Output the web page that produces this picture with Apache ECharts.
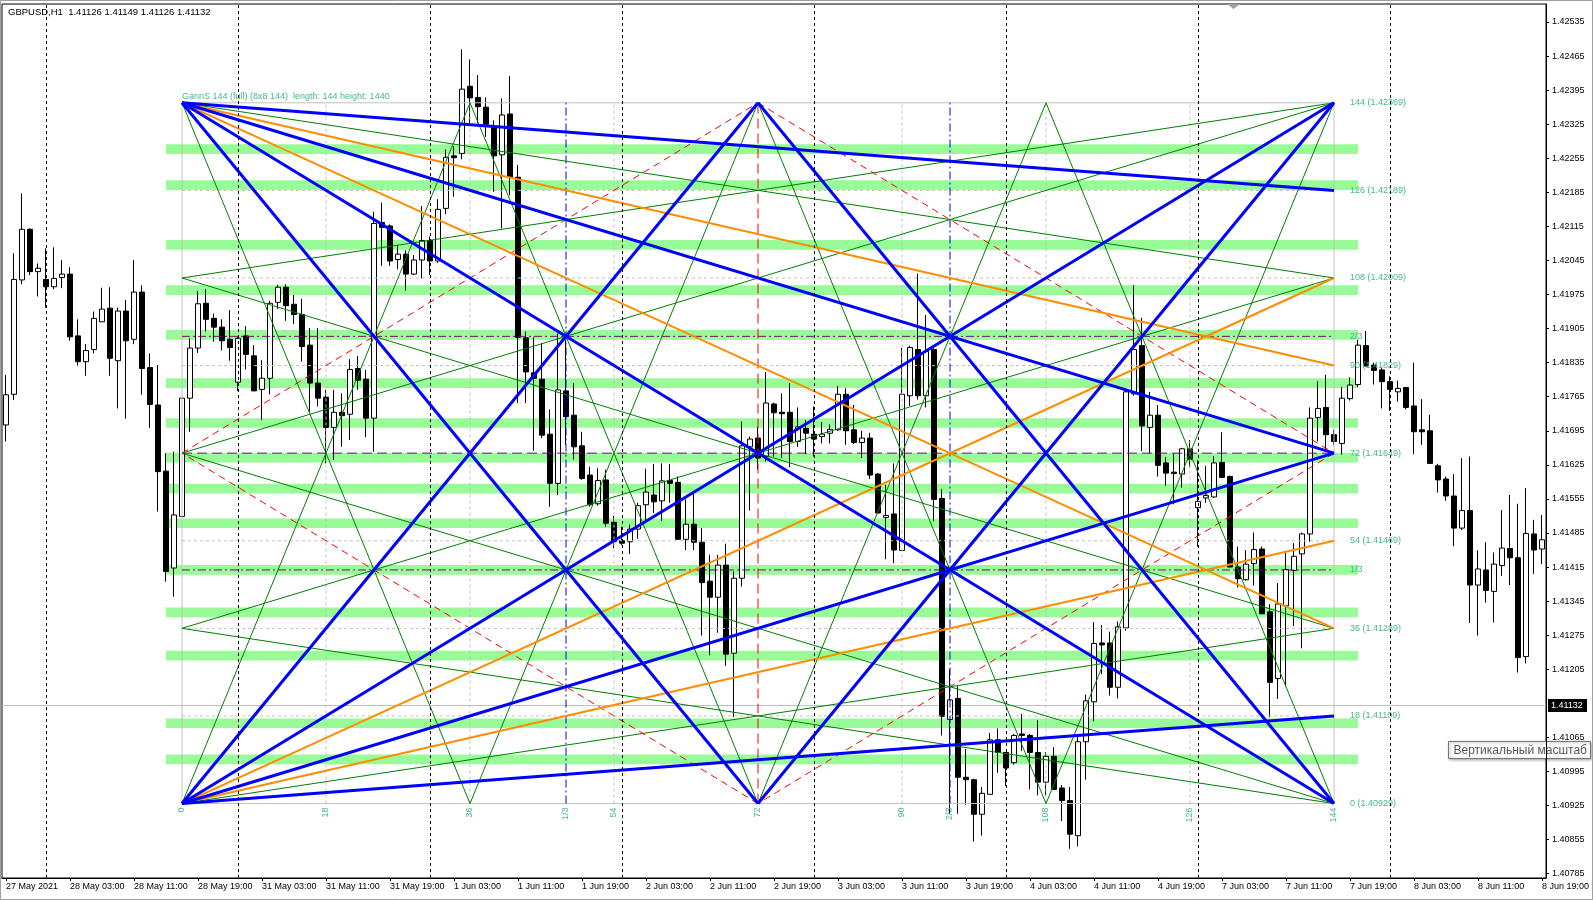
<!DOCTYPE html>
<html>
<head>
<meta charset="utf-8">
<script src="https://cdn.jsdelivr.net/npm/echarts@6/dist/echarts.min.js"></script>
<style>html,body{margin:0;padding:0;background:#fff;}#chart{width:1593px;height:900px;}</style>
</head>
<body>
<div id="chart"></div>
<script>
// ---------------- data ----------------
const symbolName = 'GBPUSD,H1';
const titleOHLC = [1.41126, 1.41149, 1.41126, 1.41132];
const lastBid = 1.41132;

const sessionDays = ['27 May','28 May','31 May','1 Jun','2 Jun','3 Jun','4 Jun','7 Jun','8 Jun'];
const firstDayStartHour = 19;
const lastDayEndHour = 19;

const tickLabels = ['27 May 2021','28 May 03:00','28 May 11:00','28 May 19:00','31 May 03:00','31 May 11:00','31 May 19:00',
  '1 Jun 03:00','1 Jun 11:00','1 Jun 19:00','2 Jun 03:00','2 Jun 11:00','2 Jun 19:00','3 Jun 03:00','3 Jun 11:00','3 Jun 19:00',
  '4 Jun 03:00','4 Jun 11:00','4 Jun 19:00','7 Jun 03:00','7 Jun 11:00','7 Jun 19:00','8 Jun 03:00','8 Jun 11:00','8 Jun 19:00'];

const priceTicks = [1.40785,1.40855,1.40925,1.40995,1.41065,1.41205,1.41275,1.41345,1.41415,1.41485,1.41555,1.41625,
  1.41695,1.41765,1.41835,1.41905,1.41975,1.42045,1.42115,1.42185,1.42255,1.42325,1.42395,1.42465,1.42535];

const open = [
1.41707,1.41770,1.42005,1.42109,1.42022,1.42006,1.41991,1.42010,1.42017,1.41890,
1.41837,1.41862,1.41919,1.41947,1.41839,1.41941,1.41883,1.41980,1.41825,1.41748,
1.41612,1.41413,1.41519,1.41762,1.41865,1.41957,1.41926,1.41908,1.41883,1.41795,
1.41890,1.41849,1.41780,1.41803,1.41959,1.41990,1.41955,1.41934,1.41871,1.41793,
1.41764,1.41702,1.41733,1.41729,1.41823,1.41801,1.41721,1.42123,1.42116,1.42047,
1.42058,1.42017,1.42046,1.42086,1.42044,1.42152,1.42260,1.42265,1.42403,1.42380,
1.42360,1.42321,1.42262,1.42346,1.42216,1.41886,1.41814,1.41801,1.41688,1.41587,
1.41777,1.41727,1.41664,1.41604,1.41545,1.41594,1.41507,1.41469,1.41467,1.41493,
1.41543,1.41563,1.41551,1.41593,1.41589,1.41472,1.41503,1.41466,1.41386,1.41353,
1.41419,1.41238,1.41392,1.41662,1.41680,1.41642,1.41750,1.41733,1.41733,1.41673,
1.41700,1.41688,1.41683,1.41690,1.41697,1.41770,1.41697,1.41671,1.41680,1.41606,
1.41517,1.41524,1.41449,1.41767,1.41862,1.41767,1.41862,1.41556,1.41102,1.41145,
1.40983,1.40978,1.40907,1.40948,1.41060,1.41034,1.41013,1.41072,1.41069,1.41034,
1.40973,1.41026,1.40961,1.40935,1.40863,1.41056,1.41138,1.41259,1.41259,1.41168,
1.41290,1.41771,1.41870,1.41702,1.41727,1.41629,1.41610,1.41606,1.41658,1.41537,
1.41557,1.41559,1.41630,1.41601,1.41415,1.41389,1.41422,1.41452,1.41323,1.41186,
1.41335,1.41408,1.41442,1.41483,1.41722,1.41743,1.41687,1.41669,1.41761,1.41790,
1.41870,1.41830,1.41820,1.41796,1.41775,1.41784,1.41746,1.41697,1.41695,1.41623,
1.41596,1.41561,1.41495,1.41531,1.41378,1.41409,1.41365,1.41418,1.41453,1.41434,
1.41231,1.41483,1.41452];

const high = [
1.41810,1.42060,1.42183,1.42111,1.42039,1.42070,1.42072,1.42046,1.42031,1.41924,
1.41873,1.41940,1.41989,1.41990,1.41948,1.41964,1.42046,1.41994,1.41854,1.41830,
1.41649,1.41652,1.41762,1.41885,1.41982,1.41986,1.41936,1.41924,1.41943,1.41888,
1.41910,1.41871,1.41840,1.41962,1.41995,1.41996,1.41974,1.41966,1.41906,1.41906,
1.41779,1.41779,1.41772,1.41842,1.41849,1.41820,1.42145,1.42164,1.42119,1.42077,
1.42066,1.42056,1.42157,1.42094,1.42171,1.42273,1.42280,1.42479,1.42458,1.42426,
1.42380,1.42333,1.42378,1.42424,1.42241,1.41899,1.41888,1.41875,1.41739,1.41895,
1.41882,1.41793,1.41693,1.41621,1.41618,1.41615,1.41520,1.41498,1.41502,1.41547,
1.41617,1.41627,1.41628,1.41627,1.41601,1.41554,1.41567,1.41495,1.41440,1.41440,
1.41463,1.41406,1.41714,1.41683,1.41703,1.41816,1.41753,1.41772,1.41793,1.41743,
1.41717,1.41745,1.41713,1.41708,1.41787,1.41782,1.41748,1.41695,1.41691,1.41608,
1.41584,1.41628,1.41865,1.41870,1.42018,1.41933,1.41866,1.41575,1.41205,1.41170,
1.41041,1.40980,1.40963,1.41074,1.41083,1.41034,1.41072,1.41113,1.41072,1.41100,
1.41035,1.41045,1.40967,1.40963,1.41069,1.41153,1.41302,1.41296,1.41282,1.41303,
1.41782,1.41994,1.41927,1.41775,1.41748,1.41641,1.41648,1.41660,1.41676,1.41634,
1.41623,1.41643,1.41692,1.41603,1.41457,1.41450,1.41486,1.41457,1.41339,1.41382,
1.41444,1.41464,1.41486,1.41743,1.41797,1.41810,1.41697,1.41785,1.41805,1.41882,
1.41900,1.41835,1.41825,1.41807,1.41798,1.41784,1.41835,1.41760,1.41728,1.41627,
1.41601,1.41606,1.41639,1.41642,1.41449,1.41466,1.41445,1.41532,1.41563,1.41545,
1.41577,1.41512,1.41522];

const low = [
1.41673,1.41758,1.41996,1.42015,1.41971,1.41948,1.41986,1.41988,1.41880,1.41829,
1.41808,1.41854,1.41919,1.41808,1.41741,1.41720,1.41873,1.41769,1.41701,1.41529,
1.41385,1.41354,1.41519,1.41693,1.41855,1.41899,1.41878,1.41860,1.41839,1.41777,
1.41821,1.41777,1.41717,1.41770,1.41945,1.41921,1.41914,1.41837,1.41734,1.41745,
1.41628,1.41635,1.41662,1.41676,1.41779,1.41682,1.41652,1.42034,1.42034,1.42027,
1.41983,1.42015,1.42008,1.42015,1.42040,1.42140,1.42176,1.42253,1.42327,1.42327,
1.42299,1.42186,1.42111,1.42179,1.41752,1.41752,1.41654,1.41680,1.41539,1.41563,
1.41666,1.41636,1.41594,1.41539,1.41541,1.41498,1.41454,1.41460,1.41442,1.41473,
1.41512,1.41526,1.41510,1.41547,1.41471,1.41450,1.41450,1.41274,1.41234,1.41280,
1.41212,1.41107,1.41375,1.41531,1.41616,1.41632,1.41642,1.41639,1.41620,1.41662,
1.41647,1.41642,1.41669,1.41669,1.41695,1.41666,1.41668,1.41639,1.41596,1.41524,
1.41431,1.41423,1.41449,1.41746,1.41759,1.41743,1.41509,1.41069,1.40908,1.40908,
1.40927,1.40851,1.40863,1.40948,1.40992,1.40965,1.41009,1.41037,1.40958,1.40946,
1.40946,1.40958,1.40893,1.40836,1.40841,1.40978,1.41098,1.41195,1.41151,1.41145,
1.41284,1.41767,1.41653,1.41649,1.41601,1.41582,1.41544,1.41578,1.41620,1.41457,
1.41547,1.41557,1.41599,1.41415,1.41373,1.41387,1.41377,1.41319,1.41106,1.41144,
1.41169,1.41294,1.41248,1.41467,1.41673,1.41653,1.41666,1.41646,1.41757,1.41785,
1.41828,1.41790,1.41741,1.41736,1.41755,1.41739,1.41647,1.41666,1.41627,1.41568,
1.41551,1.41458,1.41491,1.41300,1.41274,1.41342,1.41301,1.41397,1.41378,1.41198,
1.41217,1.41401,1.41421];

const close = [
1.41769,1.42006,1.42109,1.42022,1.42029,1.41991,1.42008,1.42017,1.41888,1.41837,
1.41860,1.41926,1.41945,1.41844,1.41941,1.41880,1.41980,1.41823,1.41749,1.41611,
1.41406,1.41522,1.41762,1.41865,1.41956,1.41924,1.41908,1.41880,1.41866,1.41885,
1.41852,1.41777,1.41803,1.41957,1.41990,1.41952,1.41934,1.41868,1.41793,1.41762,
1.41702,1.41733,1.41726,1.41821,1.41799,1.41721,1.42121,1.42113,1.42044,1.42058,
1.42017,1.42046,1.42086,1.42044,1.42150,1.42257,1.42256,1.42397,1.42379,1.42361,
1.42325,1.42260,1.42344,1.42216,1.41887,1.41816,1.41803,1.41686,1.41587,1.41779,
1.41724,1.41662,1.41597,1.41543,1.41593,1.41505,1.41467,1.41464,1.41493,1.41541,
1.41569,1.41549,1.41592,1.41587,1.41472,1.41503,1.41466,1.41383,1.41353,1.41419,
1.41236,1.41392,1.41664,1.41678,1.41639,1.41752,1.41732,1.41730,1.41673,1.41703,
1.41690,1.41678,1.41688,1.41698,1.41770,1.41695,1.41671,1.41680,1.41604,1.41526,
1.41521,1.41450,1.41770,1.41866,1.41767,1.41858,1.41554,1.41108,1.41142,1.40983,
1.40978,1.40907,1.40950,1.41060,1.41034,1.41002,1.41069,1.41069,1.41034,1.40973,
1.41026,1.40958,1.40935,1.40866,1.41056,1.41140,1.41258,1.41255,1.41168,1.41292,
1.41775,1.41862,1.41705,1.41727,1.41624,1.41608,1.41607,1.41658,1.41636,1.41550,
1.41562,1.41629,1.41599,1.41415,1.41391,1.41421,1.41451,1.41319,1.41178,1.41339,
1.41410,1.41437,1.41483,1.41721,1.41741,1.41687,1.41673,1.41762,1.41789,1.41871,
1.41828,1.41819,1.41796,1.41780,1.41782,1.41743,1.41693,1.41693,1.41628,1.41594,
1.41561,1.41495,1.41531,1.41378,1.41411,1.41367,1.41421,1.41454,1.41434,1.41229,
1.41484,1.41450,1.41471];

// Gann square (GannS 144): starts at bar 22 (28 May 17:00), base price 1.40929, 1 level = 0.0001
const gannStartIndex = 22;
const gannBase = 1.40929;
const gannStep = 0.0001;
const gannSize = 144;
const gannTitle = 'GannS 144 (full) (8x8 144)  length: 144 height: 1440';
const gannLevelMarks = [0, 18, 36, 54, 72, 90, 108, 126, 144];
const gannThirdMarks = [48, 96];
const gannThirdNames = ['1/3', '2/3'];
const gannGridSteps = [18, 36, 54, 90, 108, 126];
const gannMid = 72;
// rays in gann units [bar1, level1, bar2, level2]
const blueRays = [[0,144,144,126],[0,144,144,72],[0,144,144,0],[0,144,72,0],
  [0,0,144,18],[0,0,144,72],[0,0,144,144],[0,0,72,144],[144,144,72,0],[144,0,72,144]];
const orangeRays = [[0,144,144,90],[0,144,144,36],[0,0,144,54],[0,0,144,108]];
const greenRays = [[0,144,36,0],[36,0,72,144],[72,144,108,0],[108,0,144,144],
  [0,0,36,144],[36,144,72,0],[72,0,108,144],[108,144,144,0],
  [0,144,144,108],[0,0,144,36],[144,144,0,108],[144,0,0,36],
  [0,108,144,36],[0,36,144,108],[0,72,144,144],[0,72,144,0]];
const diamondRays = [[0,72,72,144],[72,144,144,72],[144,72,72,0],[72,0,0,72]];
const squareEdges = [[0,0,144,0],[144,0,144,144],[144,144,0,144],[0,144,0,0]];

// green zones (rectangles) : [low, high] prices, from bar 20 to bar 169
const zoneFromIndex = 20;
const zoneToIndex = 169;
const zoneRanges = [[1.42264,1.42284],[1.42190,1.42210],[1.42067,1.42087],[1.41974,1.41994],[1.41882,1.41902],
  [1.41783,1.41803],[1.41701,1.41721],[1.41630,1.41650],[1.41566,1.41586],[1.41495,1.41515],
  [1.41399,1.41419],[1.41312,1.41332],[1.41223,1.41243],[1.41084,1.41104],[1.41010,1.41030]];

// ---------------- build ----------------
const categories = [];
sessionDays.forEach((d, k) => {
  const h0 = k === 0 ? firstDayStartHour : 0;
  const h1 = k === sessionDays.length - 1 ? lastDayEndHour : 23;
  for (let h = h0; h <= h1; h++) categories.push(d + ' ' + String(h).padStart(2, '0') + ':00');
});
const separators = categories.filter(c => c.endsWith(' 00:00'));
const candles = open.map((o, i) => [o, close[i], low[i], high[i]]);

const FONT = '"Liberation Sans", Arial, sans-serif';
const LABEL_COLOR = '#45B98A';

const LINE_STYLES = {
  grid:    {stroke:'#C0C0C0', lineWidth:1, lineDash:[3,3]},
  border:  {stroke:'#C0C0C0', lineWidth:1},
  thirdH:  {stroke:'#800080', lineWidth:1, lineDash:[8,3,2,3]},
  thirdV:  {stroke:'#0000FF', lineWidth:1, lineDash:[8,3,2,3]},
  midH:    {stroke:'#8B008B', lineWidth:1, lineDash:[10,5]},
  midV:    {stroke:'#FF0000', lineWidth:1, lineDash:[10,5]},
  diamond: {stroke:'#FF0000', lineWidth:1, lineDash:[7,5]},
  green:   {stroke:'#008000', lineWidth:1},
  orange:  {stroke:'#FF8C00', lineWidth:2},
  blue:    {stroke:'#0000FF', lineWidth:3}
};

const segs = [];
gannGridSteps.forEach(v => {
  segs.push({s:[0,v,gannSize,v], k:'grid'});
  segs.push({s:[v,0,v,gannSize], k:'grid'});
});
squareEdges.forEach(s => segs.push({s, k:'border'}));
gannThirdMarks.forEach(v => {
  segs.push({s:[0,v,gannSize,v], k:'thirdH'});
  segs.push({s:[v,0,v,gannSize], k:'thirdV'});
});
segs.push({s:[0,gannMid,gannSize,gannMid], k:'midH'});
segs.push({s:[gannMid,0,gannMid,gannSize], k:'midV'});
diamondRays.forEach(s => segs.push({s, k:'diamond'}));
greenRays.forEach(s => segs.push({s, k:'green'}));
orangeRays.forEach(s => segs.push({s, k:'orange'}));
blueRays.forEach(s => segs.push({s, k:'blue'}));

const labels = [];
gannLevelMarks.forEach(l => labels.push({b:gannSize + 2, l, text: l + ' (' + (gannBase + l * gannStep).toFixed(5) + ')', kind:'right'}));
gannThirdMarks.forEach((l, k) => labels.push({b:gannSize + 2, l, text: gannThirdNames[k], kind:'right'}));
gannLevelMarks.forEach(b => labels.push({b, l:0, text:String(b), kind:'bottom'}));
gannThirdMarks.forEach((b, k) => labels.push({b, l:0, text:gannThirdNames[k], kind:'bottom'}));
labels.push({b:0, l:gannSize, text:gannTitle, kind:'top'});

function gannPoint(api, b, l) {
  return api.coord([gannStartIndex + b, gannBase + l * gannStep]);
}

const chart = echarts.init(document.getElementById('chart'), null, {renderer:'canvas'});
chart.setOption({
  animation: false,
  backgroundColor: '#ffffff',
  textStyle: {fontFamily: FONT},
  title: {
    text: symbolName + '  ' + titleOHLC.map(v => v.toFixed(5)).join(' '),
    left: 8, top: 7, padding: 0,
    textStyle: {fontSize: 9.5, fontWeight: 'normal', color: '#000', fontFamily: FONT}
  },
  grid: {left: 2, top: 4, right: 47, bottom: 22, show: true, borderColor: '#000', borderWidth: 1, backgroundColor: '#fff'},
  xAxis: {
    type: 'category', data: categories, boundaryGap: true,
    axisLine: {lineStyle: {color: '#000', width: 1}},
    axisTick: {show: true, interval: 7, alignWithLabel: true, length: 3, lineStyle: {color: '#000'}},
    axisLabel: {interval: 7, align: 'left', margin: 4, fontSize: 9, color: '#000', fontFamily: FONT,
      formatter: (v, idx) => (idx % 8 === 0 ? tickLabels[idx / 8] : '')},
    splitLine: {show: false}
  },
  yAxis: {
    type: 'value', position: 'right', min: 1.40776, max: 1.42572,
    axisLine: {show: true, lineStyle: {color: '#000', width: 1}},
    axisTick: {show: true, length: 3, customValues: priceTicks, lineStyle: {color: '#000'}},
    axisLabel: {customValues: priceTicks, formatter: v => Number(v).toFixed(5), fontSize: 9, color: '#000', margin: 6, fontFamily: FONT},
    splitLine: {show: false}
  },
  series: [
    {
      type: 'custom', name: 'zones', z: 1, clip: true, silent: true,
      data: zoneRanges.map(r => [zoneFromIndex, r[0]]),
      renderItem: (params, api) => {
        const r = zoneRanges[params.dataIndex];
        const a = api.coord([zoneFromIndex, r[1]]);
        const b = api.coord([zoneToIndex, r[0]]);
        return {type: 'rect', shape: {x: a[0], y: a[1], width: b[0] - a[0], height: b[1] - a[1]}, style: {fill: '#98FB98'}};
      }
    },
    {
      type: 'candlestick', name: 'GBPUSD', z: 2, barWidth: 5,
      data: candles,
      itemStyle: {color: '#ffffff', color0: '#000000', borderColor: '#000000', borderColor0: '#000000', borderColorDoji: '#000000', borderWidth: 1},
      emphasis: {disabled: true},
      markLine: {
        silent: true, animation: false, symbol: ['none', 'none'],
        emphasis: {disabled: true},
        label: {show: false},
        data: separators.map(c => ({xAxis: c, lineStyle: {color: '#000', type: [3, 3], width: 1}, label: {show: false}}))
      }
    },
    {
      type: 'custom', name: 'bid', z: 2, clip: false, silent: true,
      data: [[0, lastBid]],
      renderItem: (params, api) => {
        const cs = params.coordSys;
        const y = Math.round(api.coord([0, lastBid])[1]) + 0.5;
        const xr = cs.x + cs.width;
        return {type: 'group', children: [
          {type: 'line', shape: {x1: cs.x, y1: y, x2: xr, y2: y}, style: {stroke: '#C0C0C0', lineWidth: 1}},
          {type: 'rect', z2: 10, shape: {x: xr + 2, y: y - 6.5, width: 39, height: 13}, style: {fill: '#000'}},
          {type: 'text', z2: 11, x: xr + 5, y: y, style: {text: lastBid.toFixed(5), fill: '#fff', font: '9px ' + FONT,
            verticalAlign: 'middle', textVerticalAlign: 'middle'}}
        ]};
      }
    },
    {
      type: 'custom', name: 'gannLines', z: 3, clip: true, silent: true,
      data: segs.map(g => [gannStartIndex + g.s[0], gannBase + g.s[1] * gannStep]),
      renderItem: (params, api) => {
        const g = segs[params.dataIndex];
        const a = gannPoint(api, g.s[0], g.s[1]);
        const b = gannPoint(api, g.s[2], g.s[3]);
        return {type: 'line', shape: {x1: a[0], y1: a[1], x2: b[0], y2: b[1]},
          style: Object.assign({fill: null}, LINE_STYLES[g.k])};
      }
    },
    {
      type: 'custom', name: 'gannLabels', z: 4, clip: false, silent: true,
      data: labels.map(t => [gannStartIndex + t.b, gannBase + t.l * gannStep]),
      renderItem: (params, api) => {
        const t = labels[params.dataIndex];
        const p = gannPoint(api, t.b, t.l);
        let el;
        if (t.kind === 'right') {
          el = {x: p[0], y: p[1], align: 'left', va: 'middle', rot: 0};
        } else if (t.kind === 'bottom') {
          el = {x: p[0], y: p[1] + 4, align: 'right', va: 'middle', rot: Math.PI / 2};
        } else {
          el = {x: p[0], y: p[1] - 2, align: 'left', va: 'bottom', rot: 0};
        }
        return {type: 'text', x: el.x, y: el.y, rotation: el.rot,
          style: {text: t.text, fill: LABEL_COLOR, font: '9px ' + FONT,
            align: el.align, textAlign: el.align, verticalAlign: el.va, textVerticalAlign: el.va}};
      }
    }
  ],
  graphic: [
    {type: 'rect', z: 100, silent: true, shape: {x: 0.5, y: 0.5, width: 1592, height: 899}, style: {fill: null, stroke: '#A0A0A0', lineWidth: 1}},
    {type: 'polygon', z: 100, silent: true, shape: {points: [[1227, 4], [1240, 4], [1233.5, 9]]}, style: {fill: '#A0A0A0'}},
    {type: 'group', z: 100, left: 1448, top: 741, silent: true, children: [
      {type: 'rect', shape: {x: 0, y: 0, width: 142, height: 17},
        style: {fill: '#FFFFFF', stroke: '#767676', lineWidth: 1, shadowBlur: 3, shadowColor: 'rgba(0,0,0,0.35)', shadowOffsetX: 1, shadowOffsetY: 1}},
      {type: 'text', x: 5, y: 9, style: {text: 'Вертикальный масштаб', font: '12px "Liberation Sans", sans-serif', fill: '#575757',
        verticalAlign: 'middle', textVerticalAlign: 'middle'}}
    ]}
  ]
});
</script>
</body>
</html>
